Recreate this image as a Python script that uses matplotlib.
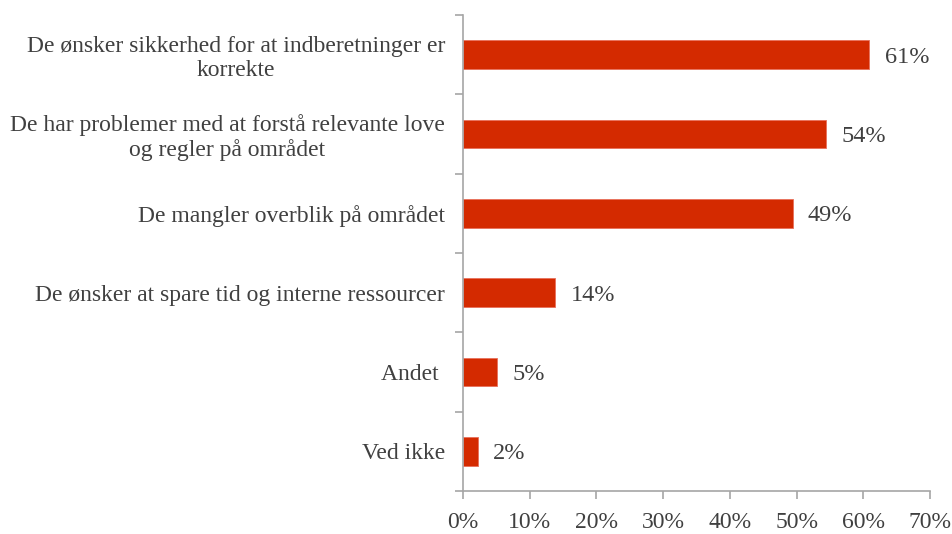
import matplotlib
matplotlib.use("Agg")
import matplotlib.pyplot as plt
import numpy as np

categories = [
    "De ønsker sikkerhed for at indberetninger er\nkorrekte",
    "De har problemer med at forstå relevante love\nog regler på området",
    "De mangler overblik på området",
    "De ønsker at spare tid og interne ressourcer",
    "Andet ",
    "Ved ikke",
]
values = [60.9, 54.4, 49.4, 13.8, 5.1, 2.2]
value_labels = ["61%", "54%", "49%", "14%", "5%", "2%"]
xticks = [0, 10, 20, 30, 40, 50, 60, 70]
xtick_labels = ["0%", "10%", "20%", "30%", "40%", "50%", "60%", "70%"]

plt.rcParams['font.family'] = ['Liberation Serif', 'DejaVu Serif']
text_color = "#404040"
axis_color = "#A6A6A6"
bar_color = "#D42A00"

fig = plt.figure(figsize=(9.53, 5.34), dpi=100)
ax = fig.add_axes([463/953, 1-491/534, (930-463)/953, (491-15)/534])

n = len(categories)
y = np.arange(n)[::-1]
ax.barh(y, values, height=0.36, color=bar_color, edgecolor="#E8705A", linewidth=0.6)
for yi, v, lab in zip(y, values, value_labels):
    ax.text(v + 2.3, yi - 0.03, lab, va="center", ha="left", fontsize=17.5, color=text_color)

ax.set_xlim(0, 70)
ax.set_ylim(-0.5, n - 0.5)
ax.set_xticks(xticks)
ax.set_xticklabels(xtick_labels, fontsize=17, color=text_color)
ax.set_yticks(y)
ax.set_yticklabels(categories, fontsize=17, color=text_color, linespacing=1.15)
ax.set_yticks(np.arange(-0.5, n, 1.0), minor=True)
ax.tick_params(axis="y", which="major", length=0, pad=13)
ax.tick_params(axis="y", which="minor", length=6, color=axis_color, width=1.2, direction="out")
ax.tick_params(axis="x", length=6, color=axis_color, width=1.2, direction="out", pad=9)

for s in ["top", "right"]:
    ax.spines[s].set_visible(False)
for s in ["left", "bottom"]:
    ax.spines[s].set_color(axis_color)
    ax.spines[s].set_linewidth(1.2)

for lab in ax.get_yticklabels():
    lab.set_ha("right")
    lab.set_multialignment("center")

fig.savefig("out.png", dpi=100, facecolor="white")
